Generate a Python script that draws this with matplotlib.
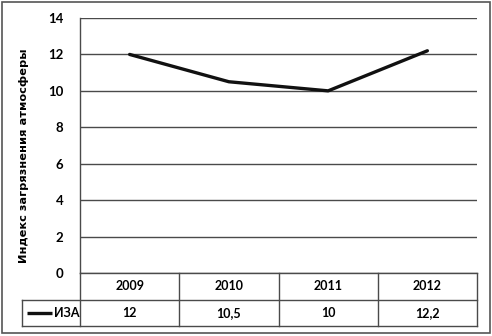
import matplotlib.pyplot as plt
from matplotlib.patches import Rectangle

years = ["2009", "2010", "2011", "2012"]
iza = [12, 10.5, 10, 12.2]
iza_labels = ["12", "10,5", "10", "12,2"]
y_ticks = [0, 2, 4, 6, 8, 10, 12, 14]
series_name = "ИЗА"
y_title = "Индекс загрязнения атмосферы"

plt.rcParams['font.family'] = ['Lato', 'DejaVu Sans']

fig = plt.figure(figsize=(4.92, 3.36), dpi=100)
ax = fig.add_axes([80 / 492, 63 / 336, 397 / 492, 255 / 336])

x = list(range(len(years)))
grid_col = '#4a4a4a'

for t in y_ticks:
    ax.axhline(t, color=grid_col, lw=1.0, zorder=1)
ax.plot(x, iza, color='#111111', lw=2.4, solid_joinstyle='round',
        solid_capstyle='round', zorder=3)

ax.set_xlim(-0.5, len(years) - 0.5)
ax.set_ylim(0, 14)
ax.set_yticks(y_ticks)
ax.set_yticklabels([str(t) for t in y_ticks], fontsize=9.5, fontweight='bold')
ax.tick_params(axis='y', length=0, pad=12)
ax.set_xticks([])
for s in ['top', 'right', 'bottom']:
    ax.spines[s].set_visible(False)
ax.spines['left'].set_color(grid_col)
ax.spines['left'].set_linewidth(1.0)

ax.set_ylabel(y_title, fontsize=8.2, fontweight='bold', family='DejaVu Sans')
ax.yaxis.set_label_coords(-0.128, 0.46)

# data table under the plot (axes coords for y, data coords for x)
tr = ax.get_xaxis_transform()
r1 = -27 / 255
r2 = -53 / 255
legend_left = -0.5 - 58 / 99.25
lk = dict(color=grid_col, lw=1.0, transform=tr, clip_on=False)
ax.plot([-0.5, 3.5], [0, 0], **lk)
ax.plot([legend_left, 3.5], [r1, r1], **lk)
ax.plot([legend_left, 3.5], [r2, r2], **lk)
ax.plot([legend_left, legend_left], [r1, r2], **lk)
for i in range(len(years) + 1):
    ax.plot([i - 0.5, i - 0.5], [0, r2], **lk)

for i, (yr, lab) in enumerate(zip(years, iza_labels)):
    ax.text(i, r1 / 2, yr, transform=tr, ha='center', va='center',
            fontsize=9, fontweight='bold')
    ax.text(i, (r1 + r2) / 2, lab, transform=tr, ha='center', va='center',
            fontsize=9, fontweight='bold')

ax.plot([legend_left + 0.05, legend_left + 0.3], [(r1 + r2) / 2] * 2,
        color='#111111', lw=2.4, solid_capstyle='butt', transform=tr,
        clip_on=False)
ax.text(legend_left + 0.32, (r1 + r2) / 2, series_name, transform=tr,
        ha='left', va='center', fontsize=9, fontweight='bold')

fig.patches.append(Rectangle((1.5 / 492, 3 / 336), 488 / 492, 331 / 336,
                             transform=fig.transFigure, fill=False,
                             edgecolor='#555555', lw=1.2))

fig.savefig('out.png', dpi=100)
